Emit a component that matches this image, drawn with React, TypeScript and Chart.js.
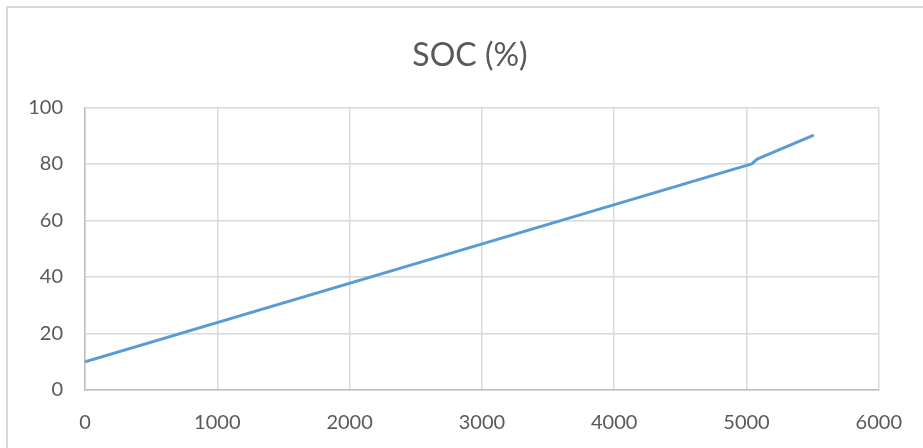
import React, { useEffect, useRef } from "react";
import { Chart, registerables } from "chart.js";

Chart.register(...registerables);

// Charge time (s) against state of charge (%)
const chargeTime = [0, 5040, 5080, 5500];
const socPercent = [10, 80, 81.7, 90];

const chartTitle = "SOC (%)";
const xRange = [0, 6000];
const xStep = 1000;
const yRange = [0, 100];
const yStep = 20;

const textColor = "#595959";
const gridColor = "#d9d9d9";
const axisColor = "#bfbfbf";
const lineColor = "#5b9bd5";

const frameBorder = {
  id: "frameBorder",
  beforeDraw(chart: any) {
    const { ctx, width, height } = chart;
    ctx.save();
    ctx.fillStyle = "#ffffff";
    ctx.fillRect(0, 0, width, height);
    ctx.strokeStyle = gridColor;
    ctx.lineWidth = 2;
    ctx.strokeRect(7, 7, width + 20, height + 20);
    ctx.restore();
  },
};

const plainNumber = (v: any) => String(v);

export default function App() {
  const canvasRef = useRef<HTMLCanvasElement | null>(null);

  useEffect(() => {
    if (!canvasRef.current) return;
    const points = chargeTime.map((x, i) => ({ x, y: socPercent[i] }));
    const chart = new Chart(canvasRef.current, {
      type: "line",
      data: {
        datasets: [
          {
            label: chartTitle,
            data: points,
            borderColor: lineColor,
            borderWidth: 3,
            borderCapStyle: "round",
            borderJoinStyle: "round",
            pointRadius: 0,
            tension: 0,
            fill: false,
            yAxisID: "y",
          },
        ],
      },
      options: {
        responsive: false,
        animation: false,
        layout: { padding: { left: 17, right: 0, top: 0, bottom: 0 } },
        plugins: {
          legend: { display: false },
          tooltip: { enabled: false },
          title: {
            display: true,
            text: chartTitle,
            color: textColor,
            font: { family: "Lato", size: 32, weight: "normal" },
            padding: { top: 36, bottom: 33 },
          },
        },
        scales: {
          x: {
            type: "linear",
            min: xRange[0],
            max: xRange[1],
            ticks: {
              stepSize: xStep,
              color: textColor,
              font: { family: "Lato", size: 20 },
              padding: 21,
              maxRotation: 0,
              callback: plainNumber,
            },
            grid: { color: gridColor, lineWidth: 1.5, drawTicks: false },
            border: { color: axisColor, width: 1.5 },
            afterFit(scale: any) {
              scale.height = 58;
            },
          },
          y: {
            position: "left",
            min: yRange[0],
            max: yRange[1],
            ticks: {
              stepSize: yStep,
              color: textColor,
              font: { family: "Lato", size: 20 },
              padding: 22,
              callback: plainNumber,
            },
            grid: { color: gridColor, lineWidth: 1.5, drawTicks: false },
            border: { color: axisColor, width: 1.5 },
            afterFit(scale: any) {
              scale.width = 68;
            },
          },
          // empty spacer on the right so the plot ends where the last gridline sits
          yRight: {
            position: "right",
            min: yRange[0],
            max: yRange[1],
            ticks: { display: false },
            grid: { display: false },
            border: { display: false },
            afterFit(scale: any) {
              scale.width = 41;
            },
          },
        },
      },
      plugins: [frameBorder],
    });
    return () => chart.destroy();
  }, []);

  return (
    <div style={{ position: "absolute", left: 0, top: 0, width: 923, height: 448 }}>
      <canvas ref={canvasRef} width={923} height={448} />
    </div>
  );
}
